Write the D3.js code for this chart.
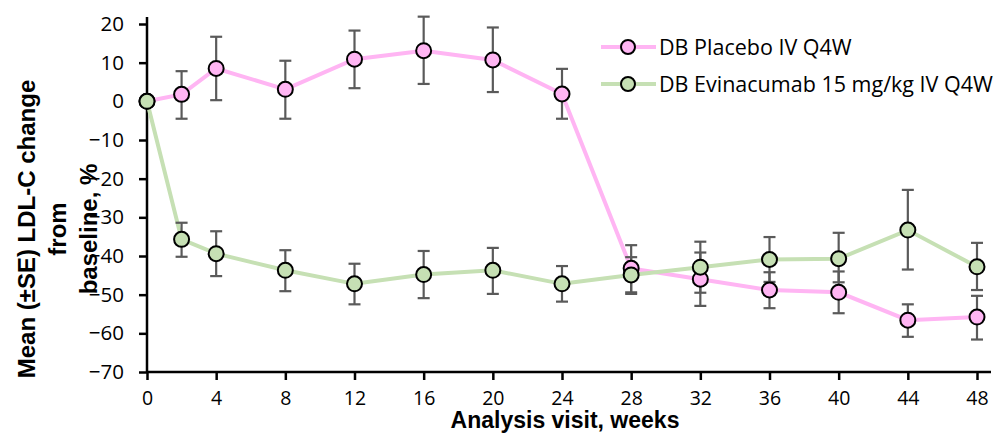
<!DOCTYPE html>
<html><head><meta charset="utf-8">
<script src="https://cdn.jsdelivr.net/npm/d3@7"></script>
<style>
html,body{margin:0;padding:0;background:#fff;}
svg{display:block;}
</style></head>
<body>
<svg id="chart" width="1006" height="434"></svg>
<script>
const weeks = [0, 2, 4, 8, 12, 16, 20, 24, 28, 32, 36, 40, 44, 48];
const placeboMean  = [0, 1.8, 8.5, 3.1, 10.9, 13.1, 10.7, 1.9, -43.2, -46.0, -48.8, -49.4, -56.6, -55.8];
const placeboUpper = [null, 7.8, 16.7, 10.5, 18.3, 21.9, 19.1, 8.4, -37.2, -39.1, -44.2, -44.0, -52.5, -50.3];
const placeboLower = [null, -4.5, 0.3, -4.5, 3.4, 4.5, 2.4, -4.5, -49.4, -52.9, -53.5, -54.8, -60.9, -61.6];
const evinMean  = [0, -35.7, -39.4, -43.7, -47.2, -44.8, -43.7, -47.2, -44.9, -42.9, -40.9, -40.7, -33.3, -42.8];
const evinUpper = [null, -31.4, -33.6, -38.5, -42.0, -38.7, -37.9, -42.6, -40.3, -36.3, -35.1, -34.0, -22.9, -36.6];
const evinLower = [null, -40.2, -45.2, -49.1, -52.5, -50.9, -49.8, -51.8, -49.8, -49.5, -46.7, -46.8, -43.5, -48.8];
const xTicks = [0, 4, 8, 12, 16, 20, 24, 28, 32, 36, 40, 44, 48];
const yTicks = [20, 10, 0, -10, -20, -30, -40, -50, -60, -70];
const seriesNames = ["DB Placebo IV Q4W", "DB Evinacumab 15 mg/kg IV Q4W"];
const yTitleLines = ["Mean (\u00b1SE) LDL-C change", "from", "baseline, %"];
const xTitle = "Analysis visit, weeks";

const svg = d3.select("#chart");
const x = d3.scaleLinear().domain([0, 48]).range([147, 977]);
const y = d3.scaleLinear().domain([-70, 20]).range([372, 24]);

const tickFont = "Open Sans, Liberation Sans, sans-serif";

const series = [
  {name: seriesNames[0], mean: placeboMean, up: placeboUpper, lo: placeboLower, line: "#ffb5f3", fill: "#ffb5f3"},
  {name: seriesNames[1], mean: evinMean, up: evinUpper, lo: evinLower, line: "#c6e0b4", fill: "#c6e0b4"}
];

// axes
const yAxis = d3.axisLeft(y).tickValues(yTicks).tickSize(8).tickSizeOuter(0).tickPadding(15);
const gy = svg.append("g").attr("transform", "translate(147,0)").call(yAxis);
gy.select(".domain").attr("d", "M0,17V372").attr("stroke", "#000").attr("stroke-width", 2.5);
gy.selectAll(".tick line").attr("stroke", "#000").attr("stroke-width", 2.5);
gy.selectAll(".tick text").attr("font-family", tickFont).attr("font-size", 20.5).attr("fill", "#000");

const xAxis = d3.axisBottom(x).tickValues(xTicks).tickSize(8).tickSizeOuter(0).tickPadding(11);
const gx = svg.append("g").attr("transform", "translate(0,372)").call(xAxis);
gx.select(".domain").attr("d", "M147,0H991").attr("stroke", "#000").attr("stroke-width", 2.5);
gx.selectAll(".tick line").attr("stroke", "#000").attr("stroke-width", 2.5);
gx.selectAll(".tick text").attr("font-family", tickFont).attr("font-size", 19.5).attr("fill", "#000");

// x title
svg.append("text").attr("x", 565).attr("y", 428).attr("text-anchor", "middle")
  .attr("font-family", "Liberation Sans, Arial, sans-serif")
  .attr("font-weight", "bold").attr("font-size", 23).text(xTitle);

// y title
const yt = svg.append("text").attr("transform", "translate(0,229) rotate(-90)")
  .attr("text-anchor", "middle").attr("font-family", "Liberation Sans, Arial, sans-serif")
  .attr("font-weight", "bold").attr("font-size", 24);
yTitleLines.forEach((t, i) => {
  yt.append("tspan").attr("x", 0).attr("y", 35 + i * 31).text(t);
});

// lines
series.forEach(s => {
  const line = d3.line().x((d, i) => x(weeks[i])).y(d => y(d));
  svg.append("path").datum(s.mean).attr("d", line).attr("fill", "none")
    .attr("stroke", s.line).attr("stroke-width", 4);
});

// error bars
series.forEach(s => {
  const g = svg.append("g").attr("stroke", "#5a5a5a").attr("stroke-width", 2.2).attr("fill", "none");
  weeks.forEach((w, i) => {
    if (s.up[i] === null) return;
    const cx = x(w);
    g.append("line").attr("x1", cx).attr("x2", cx).attr("y1", y(s.up[i])).attr("y2", y(s.lo[i]));
    g.append("line").attr("x1", cx - 6).attr("x2", cx + 6).attr("y1", y(s.up[i])).attr("y2", y(s.up[i]));
    g.append("line").attr("x1", cx - 6).attr("x2", cx + 6).attr("y1", y(s.lo[i])).attr("y2", y(s.lo[i]));
  });
});

// markers
series.forEach(s => {
  svg.append("g").selectAll("circle").data(s.mean).join("circle")
    .attr("cx", (d, i) => x(weeks[i])).attr("cy", d => y(d)).attr("r", 7.5)
    .attr("fill", s.fill).attr("stroke", "#000").attr("stroke-width", 2);
});

// legend
series.forEach((s, i) => {
  const ly = 47 + i * 37;
  svg.append("line").attr("x1", 601).attr("x2", 656).attr("y1", ly).attr("y2", ly)
    .attr("stroke", s.line).attr("stroke-width", 4);
  svg.append("circle").attr("cx", 628).attr("cy", ly).attr("r", 7).attr("fill", s.fill)
    .attr("stroke", "#000").attr("stroke-width", 2);
  svg.append("text").attr("x", 659).attr("y", ly).attr("dy", "0.35em")
    .attr("font-family", tickFont).attr("font-size", 21.5).text(s.name);
});
</script>
</body></html>
